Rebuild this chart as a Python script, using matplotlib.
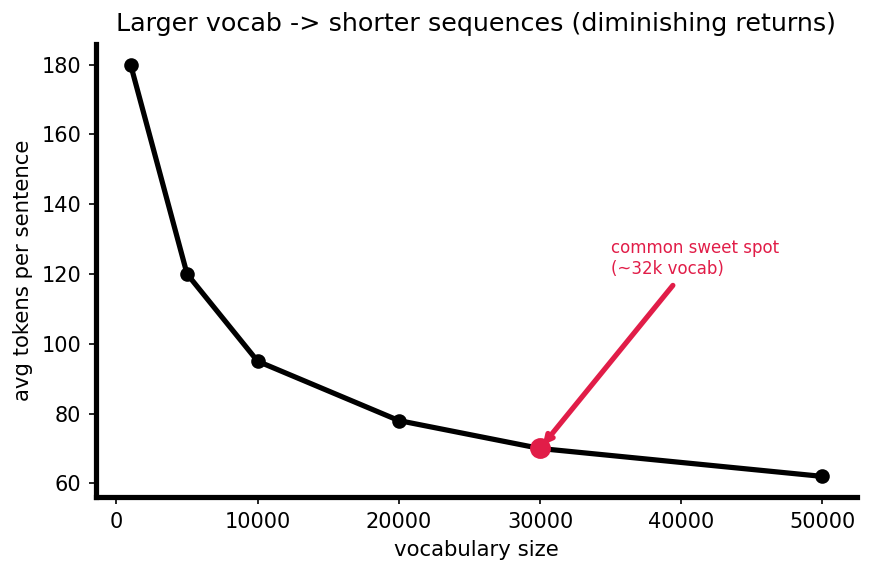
import matplotlib
matplotlib.use("Agg")
import matplotlib.pyplot as plt

vocab_sizes = [1000, 5000, 10000, 20000, 30000, 50000]
avg_tokens = [180, 120, 95, 78, 70, 62]
highlight_x = 30000
highlight_y = 70
accent = "#e11d48"

fig = plt.figure(figsize=(869/150, 573/150), dpi=150)
ax = fig.add_axes([96/869, 1-497/573, (857-96)/869, (497-44)/573])

ax.plot(vocab_sizes, avg_tokens, color="black", lw=2.5, marker="o", ms=6)
ax.plot([highlight_x], [highlight_y], "o", color=accent, ms=9, zorder=5)
ax.annotate("common sweet spot\n(~32k vocab)", xy=(highlight_x, highlight_y),
            xytext=(35000, 120), color=accent, fontsize=8,
            arrowprops=dict(arrowstyle="->", color=accent, lw=2.5))

ax.set_title("Larger vocab -> shorter sequences (diminishing returns)", fontsize=12.2)
ax.set_xlabel("vocabulary size", fontsize=10.2)
ax.set_ylabel("avg tokens per sentence", fontsize=10.2)
for s in ["top", "right"]:
    ax.spines[s].set_visible(False)
for s in ["left", "bottom"]:
    ax.spines[s].set_linewidth(2.5)
ax.tick_params(labelsize=10)

fig.savefig("out.png", dpi=150)
